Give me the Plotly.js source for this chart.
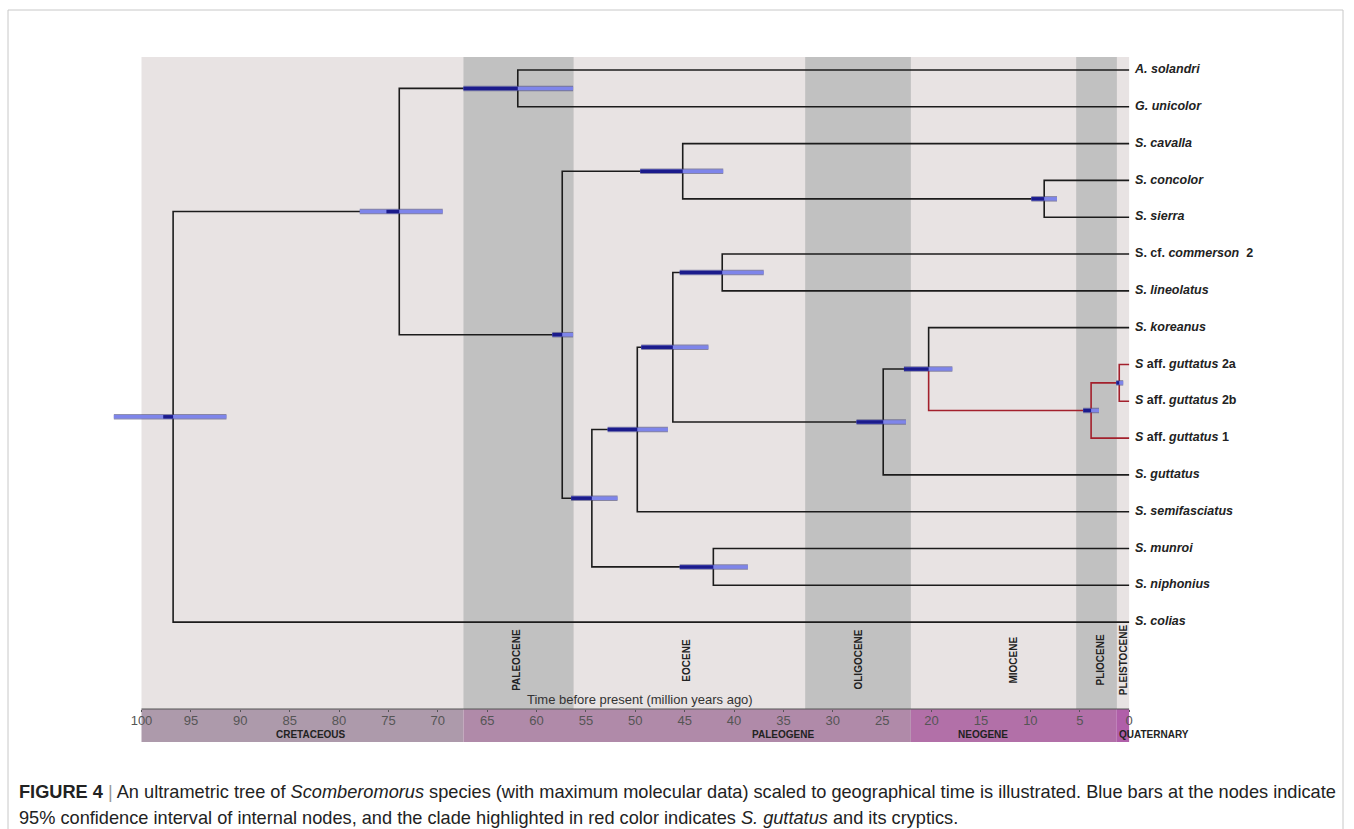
<!DOCTYPE html>
<html><head><meta charset="utf-8">
<script src="https://cdn.plot.ly/plotly-3.0.1.min.js"></script>
<style>html,body{margin:0;padding:0;background:#fff}#chart{width:1354px;height:829px}</style>
</head><body><div id="chart"></div>
<script>
// ---------- data ----------
const tipLabels = [
  "<b><i>A. solandri</i></b>",
  "<b><i>G. unicolor</i></b>",
  "<b><i>S. cavalla</i></b>",
  "<b><i>S. concolor</i></b>",
  "<b><i>S. sierra</i></b>",
  "<b>S. cf. <i>commerson</i>  2</b>",
  "<b><i>S. lineolatus</i></b>",
  "<b><i>S. koreanus</i></b>",
  "<b><i>S</i> aff. <i>guttatus</i> 2a</b>",
  "<b><i>S</i> aff. <i>guttatus</i> 2b</b>",
  "<b><i>S</i> aff. <i>guttatus</i> 1</b>",
  "<b><i>S. guttatus</i></b>",
  "<b><i>S. semifasciatus</i></b>",
  "<b><i>S. munroi</i></b>",
  "<b><i>S. niphonius</i></b>",
  "<b><i>S. colias</i></b>"
];
const tipIds = ["t0","t1","t2","t3","t4","t5","t6","t7","t8","t9","t10","t11","t12","t13","t14","t15"];
const tipAge = 0;

// internal nodes (ages in million years ago)
const nodeIds   = ["root","A","B","C","D","E","F","G","H","I","J","K","L","M","N"];
const nodeAge   = [96.8, 73.9, 61.9, 57.4, 45.2, 8.6, 54.4, 49.8, 46.2, 41.2, 24.9, 20.3, 3.85, 1.0, 42.1];
const hpdOld    = [102.8,77.9, 67.4, 58.4, 49.5, 9.9, 56.5, 52.8, 49.4, 45.5, 27.6, 22.8, 4.65, 1.3, 45.5];
const hpdYoung  = [91.4, 69.5, 56.3, 56.3, 41.1, 7.3, 51.8, 46.7, 42.6, 37.0, 22.6, 17.9, 3.05, 0.6, 38.6];
const darkFrom  = [97.8, 75.2, 67.4, 58.4, 49.5, 9.9, 56.5, 52.8, 49.4, 45.5, 27.6, 22.8, 4.65, 1.3, 45.5];
const childFirst  = ["A","B","t0","D","t2","t3","G","H","I","t5","K","t7","M","t8","t13"];
const childSecond = ["t15","C","t1","F","E","t4","N","t12","J","t6","t11","L","t10","t9","t14"];
const redClade = ["L","M","t8","t9","t10"];

// geological time
const epochNames = ["PALEOCENE","EOCENE","OLIGOCENE","MIOCENE","PLIOCENE","PLEISTOCENE"];
const epochLabelAge = [62.1, 44.9, 27.5, 11.8, 3.0, 0.6];
const grayBandOld   = [67.4, 32.8, 5.36];
const grayBandYoung = [56.25, 22.1, 1.24];
const periodNames = ["CRETACEOUS","PALEOGENE","NEOGENE","QUATERNARY"];
const periodOld   = [100, 67.4, 22.1, 1.3];
const periodYoung = [67.4, 22.1, 1.3, 0];
const periodLabelAge = [82.8, 35.0, 14.8, 1.2];
const periodColors = ["#ad9aab","#b08aa9","#b270a8","#b05fa9"];
const tickVals = [100,95,90,85,80,75,70,65,60,55,50,45,40,35,30,25,20,15,10,5,0];

// ---------- layout geometry ----------
const L = 102, R = 215, T = 57, B = 120, W = 1354 - L - R, H = 829 - T - B;
const px2xp = p => (p - L) / W;
const py2yp = p => (829 - B - p) / H;
const labelGap = 0.6; // Ma of space between tip and its label

// ---------- tree geometry ----------
const ageOf = {}, yOf = {};
tipIds.forEach((id, i) => { ageOf[id] = tipAge; yOf[id] = i; });
nodeIds.forEach((id, i) => { ageOf[id] = nodeAge[i]; });
function getY(id) {
  if (id in yOf) return yOf[id];
  const k = nodeIds.indexOf(id);
  yOf[id] = (getY(childFirst[k]) + getY(childSecond[k])) / 2;
  return yOf[id];
}
nodeIds.forEach(getY);

const blk = {x: [], y: []}, red = {x: [], y: []};
nodeIds.forEach((id, k) => {
  [childFirst[k], childSecond[k]].forEach(c => {
    const tgt = redClade.includes(c) ? red : blk;
    tgt.x.push(ageOf[id], ageOf[id], ageOf[c], null);
    tgt.y.push(yOf[id], yOf[c], yOf[c], null);
  });
});

const barX = [], barY = [], darkX = [], darkY = [];
nodeIds.forEach((id, k) => {
  barX.push(hpdOld[k], hpdYoung[k], null); barY.push(yOf[id], yOf[id], null);
  darkX.push(darkFrom[k], nodeAge[k], null); darkY.push(yOf[id], yOf[id], null);
});

const FONT = "Liberation Sans, Arial, Helvetica, sans-serif";

const traces = [
  {x: blk.x, y: blk.y, mode: "lines", line: {color: "#1c1c1c", width: 1.6}, hoverinfo: "skip"},
  {x: red.x, y: red.y, mode: "lines", line: {color: "#a3202c", width: 1.6}, hoverinfo: "skip"},
  {x: barX, y: barY, mode: "lines", line: {color: "rgba(70,70,120,0.6)", width: 5.5}, hoverinfo: "skip"},
  {x: barX, y: barY, mode: "lines", line: {color: "#7e85ea", width: 3.5}, hoverinfo: "skip"},
  {x: darkX, y: darkY, mode: "lines", line: {color: "#1b1b8c", width: 3.5}, hoverinfo: "skip"},
  {x: tipIds.map(() => tipAge - labelGap), y: tipIds.map(id => yOf[id]), mode: "text", text: tipLabels,
   textposition: "middle right", cliponaxis: false,
   textfont: {family: FONT, size: 12.5, color: "#222"}, hoverinfo: "skip"}
];

const shapes = [];
shapes.push({type: "rect", xref: "x", yref: "paper", x0: 100, x1: 0, y0: 0, y1: 1,
  fillcolor: "#e8e3e3", line: {width: 0}, layer: "below"});
grayBandOld.forEach((o, i) => shapes.push({type: "rect", xref: "x", yref: "paper",
  x0: o, x1: grayBandYoung[i], y0: 0, y1: 1, fillcolor: "#c1c1c1", line: {width: 0}, layer: "below"}));
periodOld.forEach((o, i) => shapes.push({type: "rect", xref: "x", yref: "paper",
  x0: o, x1: periodYoung[i], y0: py2yp(742), y1: 0, fillcolor: periodColors[i], line: {width: 0}, layer: "below"}));
shapes.push({type: "line", xref: "x", yref: "paper", x0: 100, x1: 0, y0: 0, y1: 0,
  line: {color: "#555", width: 1}});
shapes.push({type: "rect", xref: "paper", yref: "paper", x0: px2xp(8), x1: px2xp(1343),
  y0: py2yp(10), y1: py2yp(860), line: {color: "#c8c8c8", width: 1}, fillcolor: "rgba(0,0,0,0)"});

const annotations = [];
epochNames.forEach((n, i) => annotations.push({text: "<b>" + n + "</b>", x: epochLabelAge[i], xref: "x",
  y: py2yp(660), yref: "paper", yanchor: "middle", xanchor: "center", textangle: -90, showarrow: false,
  font: {family: FONT, size: 10, color: "#222"}}));
periodNames.forEach((n, i) => annotations.push({text: "<b>" + n + "</b>", x: periodLabelAge[i], xref: "x",
  y: py2yp(734), yref: "paper", xanchor: i === 3 ? "left" : "center", yanchor: "middle", showarrow: false,
  font: {family: FONT, size: 10, color: "#222"}}));
annotations.push({text: "Time before present (million years ago)", x: 49.5, xref: "x", y: py2yp(699), yref: "paper",
  xanchor: "center", yanchor: "middle", showarrow: false, font: {family: FONT, size: 13, color: "#333"}});
annotations.push({text: "<b>FIGURE 4</b> <span style='color:#999'>|</span> An ultrametric tree of <i>Scomberomorus</i> species (with maximum molecular data) scaled to geographical time is illustrated. Blue bars at the nodes indicate",
  x: px2xp(17), xref: "paper", y: py2yp(792), yref: "paper", xanchor: "left", yanchor: "middle", showarrow: false,
  font: {family: FONT, size: 18.2, color: "#222"}});
annotations.push({text: "95% confidence interval of internal nodes, and the clade highlighted in red color indicates <i>S. guttatus</i> and its cryptics.",
  x: px2xp(17), xref: "paper", y: py2yp(818), yref: "paper", xanchor: "left", yanchor: "middle", showarrow: false,
  font: {family: FONT, size: 18.2, color: "#222"}});

const layout = {
  width: 1354, height: 829, margin: {l: L, r: R, t: T, b: B},
  paper_bgcolor: "#fff", plot_bgcolor: "#fff", showlegend: false,
  xaxis: {range: [104, -1], tickvals: tickVals, ticktext: tickVals.map(String), ticks: "outside",
    ticklen: 2, tickcolor: "#555", showgrid: false, zeroline: false, showline: false,
    ticklabelstandoff: -3,
    tickfont: {family: FONT, size: 13, color: "#555"}},
  yaxis: {range: [17.36, -0.353], visible: false, showgrid: false, zeroline: false},
  shapes: shapes, annotations: annotations
};
Plotly.newPlot("chart", traces, layout, {staticPlot: true, displayModeBar: false});
</script></body></html>
